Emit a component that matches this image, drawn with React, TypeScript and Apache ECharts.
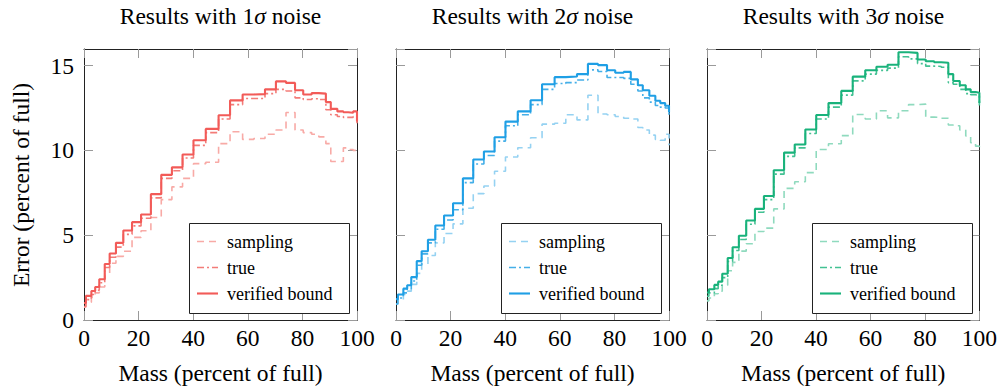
import React, { useEffect, useRef } from "react";
import * as echarts from "echarts";

// Mass (percent of full) at which each step starts
const MASS = [0, 0.7, 2.7, 4.1, 5.6, 7.6, 9.4, 11.7, 14.4, 17.6, 20.9, 24.5, 28.3, 32.2, 36.1, 40.1, 44.6, 49.3, 53.5, 58.1, 62.2, 66.3, 70.3, 74.0, 77.3, 80.3, 83.4, 86.0, 88.6, 90.4, 92.8, 95.0, 96.8, 98.6, 100];

// 1 sigma noise
const SAMPLING_1 = [0.75, 1.05, 1.35, 1.6, 1.95, 2.75, 3.35, 3.75, 4.05, 4.87, 5.26, 6.04, 7.1, 7.85, 8.35, 9.22, 9.3, 10.4, 11.1, 10.65, 10.7, 10.95, 11.2, 12.24, 11.2, 11.05, 10.95, 10.8, 10.4, 9.35, 9.35, 10.15, 10.05, 10.0, 9.95];
const TRUE_1 = [0.8, 1.2, 1.5, 1.75, 2.2, 3.1, 3.7, 4.3, 5.05, 5.55, 6.0, 7.2, 8.35, 8.8, 9.55, 10.3, 11.05, 11.85, 12.7, 13.06, 13.06, 13.35, 13.6, 13.5, 13.1, 13.0, 13.05, 13.0, 12.4, 12.1, 12.0, 11.95, 11.95, 12.0, 11.6];
const BOUND_1 = [1.0, 1.42, 1.71, 1.95, 2.4, 3.3, 3.92, 4.55, 5.28, 5.77, 6.22, 7.42, 8.56, 9.0, 9.76, 10.6, 11.27, 12.07, 12.95, 13.3, 13.32, 13.6, 14.07, 13.98, 13.55, 13.3, 13.38, 13.35, 12.85, 12.45, 12.3, 12.25, 12.22, 12.3, 11.7];

// 2 sigma noise
const SAMPLING_2 = [0.94, 1.2, 1.5, 1.7, 2.1, 2.75, 3.3, 3.8, 4.55, 5.1, 5.67, 6.59, 7.45, 7.9, 8.77, 9.61, 10.16, 10.75, 11.55, 11.6, 12.1, 11.8, 13.25, 12.15, 12.1, 12.0, 11.9, 11.85, 11.35, 11.2, 10.9, 10.65, 10.6, 10.95, 10.3];
const TRUE_2 = [0.95, 1.3, 1.6, 1.85, 2.3, 3.23, 3.9, 4.55, 5.35, 5.9, 6.5, 8.1, 9.2, 9.7, 10.55, 11.45, 12.1, 12.7, 13.6, 13.95, 14.0, 14.15, 14.75, 14.65, 14.3, 14.3, 14.25, 13.9, 13.5, 13.1, 12.85, 12.65, 12.55, 12.5, 12.1];
const BOUND_2 = [1.23, 1.5, 1.85, 2.05, 2.53, 3.47, 4.05, 4.73, 5.57, 6.16, 6.88, 8.35, 9.46, 9.94, 10.78, 11.7, 12.3, 12.96, 13.9, 14.32, 14.36, 14.5, 15.1, 15.03, 14.73, 14.58, 14.63, 14.19, 13.84, 13.55, 13.22, 12.93, 12.79, 12.63, 12.24];

// 3 sigma noise
const SAMPLING_3 = [1.13, 1.3, 1.55, 1.7, 2.05, 2.9, 3.4, 4.06, 4.5, 5.22, 5.42, 6.55, 7.76, 8.15, 8.69, 10.05, 10.39, 10.87, 12.12, 11.85, 12.34, 11.92, 12.34, 12.7, 12.73, 11.96, 11.95, 11.9, 11.5, 11.45, 11.2, 10.85, 10.45, 10.25, 10.0];
const TRUE_3 = [1.4, 1.6, 1.85, 2.05, 2.5, 3.45, 4.1, 4.75, 5.65, 6.35, 7.1, 8.6, 9.65, 10.15, 11.0, 11.85, 12.55, 13.26, 14.1, 14.5, 14.72, 14.85, 15.52, 15.4, 15.12, 14.97, 14.95, 14.9, 14.0, 13.9, 13.6, 13.35, 13.28, 13.25, 12.65];
const BOUND_3 = [1.62, 1.81, 2.07, 2.26, 2.73, 3.66, 4.29, 4.97, 5.87, 6.55, 7.31, 8.83, 9.87, 10.35, 11.23, 12.09, 12.79, 13.51, 14.35, 14.73, 14.93, 15.05, 15.79, 15.75, 15.36, 15.26, 15.2, 15.17, 14.5, 14.09, 13.84, 13.6, 13.44, 13.4, 12.8];

const SIGMAS = ["1", "2", "3"];
const SERIES_NAMES = ["sampling", "true", "verified bound"];
const X_TICKS = [0, 20, 40, 60, 80, 100];
const Y_TICKS = [0, 5, 10, 15];
const X_TITLE = "Mass (percent of full)";
const Y_TITLE = "Error (percent of full)";

const PANEL_DATA = [
  [SAMPLING_1, TRUE_1, BOUND_1],
  [SAMPLING_2, TRUE_2, BOUND_2],
  [SAMPLING_3, TRUE_3, BOUND_3],
];
const PANEL_COLORS = [
  ["#f8aaa6", "#f37c78", "#f25b58"],
  ["#95d2f2", "#45afe8", "#1f9fe5"],
  ["#8fdabe", "#43c193", "#19b27b"],
];

const FONT = "'Liberation Serif', 'Times New Roman', serif";
const GRID_LEFTS = [84, 396, 707];
const GRID_TOP = 49;
const GRID_W = 273;
const GRID_H = 272;
const Y_MAX = 15.98;

const DASHES = [[7, 5], [7, 3, 2, 3], null];
const WIDTHS = [1.6, 1.6, 2.1];

export default function App() {
  const ref = useRef<HTMLDivElement>(null);

  useEffect(() => {
    if (!ref.current) return;
    const chart = echarts.init(ref.current, undefined, { renderer: "svg" });

    const grids: any[] = [];
    const xAxes: any[] = [];
    const yAxes: any[] = [];
    const series: any[] = [];
    const titles: any[] = [];
    const graphics: any[] = [];

    const tickStyle = { inside: true, length: 9, lineStyle: { color: "#9a9a9a", width: 1 } };
    const lineStyle = { show: true, onZero: false, lineStyle: { color: "#222", width: 1 } };
    const labelFont = { fontFamily: FONT, fontSize: 23.5, color: "#000" };

    PANEL_DATA.forEach((sets, p) => {
      const left = GRID_LEFTS[p];
      grids.push({ left, top: GRID_TOP, width: GRID_W, height: GRID_H, show: false });

      xAxes.push({
        gridIndex: p, type: "value", min: 0, max: 100, interval: 20, position: "bottom",
        axisLine: lineStyle, axisTick: tickStyle, splitLine: { show: false },
        axisLabel: { ...labelFont, margin: 6, formatter: (v: number) => (X_TICKS.includes(v) ? String(v) : "") },
        name: X_TITLE, nameLocation: "middle", nameGap: 41,
        nameTextStyle: { fontFamily: FONT, fontSize: 23.5, color: "#000" },
      });
      xAxes.push({
        gridIndex: p, type: "value", min: 0, max: 100, interval: 20, position: "top",
        axisLine: lineStyle, axisTick: tickStyle, splitLine: { show: false },
        axisLabel: { show: false },
      });
      yAxes.push({
        gridIndex: p, type: "value", min: 0, max: Y_MAX, interval: 5, position: "left",
        axisLine: lineStyle, axisTick: tickStyle, splitLine: { show: false },
        axisLabel: {
          show: p === 0, ...labelFont, margin: 10, showMaxLabel: false,
          formatter: (v: number) => (Y_TICKS.includes(v) ? String(v) : ""),
        },
      });
      yAxes.push({
        gridIndex: p, type: "value", min: 0, max: Y_MAX, interval: 5, position: "right",
        axisLine: lineStyle, axisTick: tickStyle, splitLine: { show: false },
        axisLabel: { show: false },
      });

      sets.forEach((vals, s) => {
        series.push({
          name: SERIES_NAMES[s],
          type: "line",
          step: "end",
          xAxisIndex: p * 2,
          yAxisIndex: p * 2,
          showSymbol: false,
          symbol: "none",
          z: 2 + s,
          lineStyle: {
            color: PANEL_COLORS[p][s],
            width: WIDTHS[s],
            type: DASHES[s] ? DASHES[s] : "solid",
          },
          itemStyle: { color: PANEL_COLORS[p][s] },
          data: MASS.map((m, i) => [m, vals[i]]),
        });
      });

      titles.push({
        text: `Results with ${SIGMAS[p]}{i|σ} noise`,
        left: left + GRID_W / 2,
        top: 4,
        padding: 0,
        textAlign: "center",
        textStyle: {
          fontFamily: FONT, fontSize: 23.5, fontWeight: "normal", color: "#000",
          rich: { i: { fontFamily: FONT, fontSize: 23.5, fontStyle: "italic", color: "#000" } },
        },
      });

      // legend box
      const bx = left + GRID_W - 8 - 160;
      const by = 223;
      graphics.push({
        type: "rect", z: 100,
        shape: { x: bx + 0.5, y: by + 0.5, width: 160, height: 90 },
        style: { fill: "#fff", stroke: "#222", lineWidth: 1 },
      });
      SERIES_NAMES.forEach((nm, s) => {
        const yy = by + 18.5 + 26 * s;
        graphics.push({
          type: "line", z: 101,
          shape: { x1: bx + 8, y1: yy, x2: bx + 29, y2: yy },
          style: {
            stroke: PANEL_COLORS[p][s], lineWidth: WIDTHS[s],
            lineDash: DASHES[s] ? DASHES[s] : null,
          },
        });
        graphics.push({
          type: "text", z: 101, x: bx + 38, y: yy,
          style: {
            text: nm, font: `18px ${FONT}`, fill: "#000",
            align: "left", verticalAlign: "middle",
          },
        });
      });
    });

    graphics.push({
      type: "text", z: 101, x: 21, y: 185, rotation: Math.PI / 2,
      style: {
        text: Y_TITLE, font: `23.5px ${FONT}`, fill: "#000",
        align: "center", verticalAlign: "middle",
      },
    });

    chart.setOption({
      animation: false,
      backgroundColor: "#fff",
      title: titles,
      grid: grids,
      xAxis: xAxes,
      yAxis: yAxes,
      series,
      graphic: graphics,
    });

    return () => chart.dispose();
  }, []);

  return (
    <div
      ref={ref}
      style={{ position: "fixed", left: 0, top: 0, width: 1000, height: 390, background: "#fff" }}
    />
  );
}
